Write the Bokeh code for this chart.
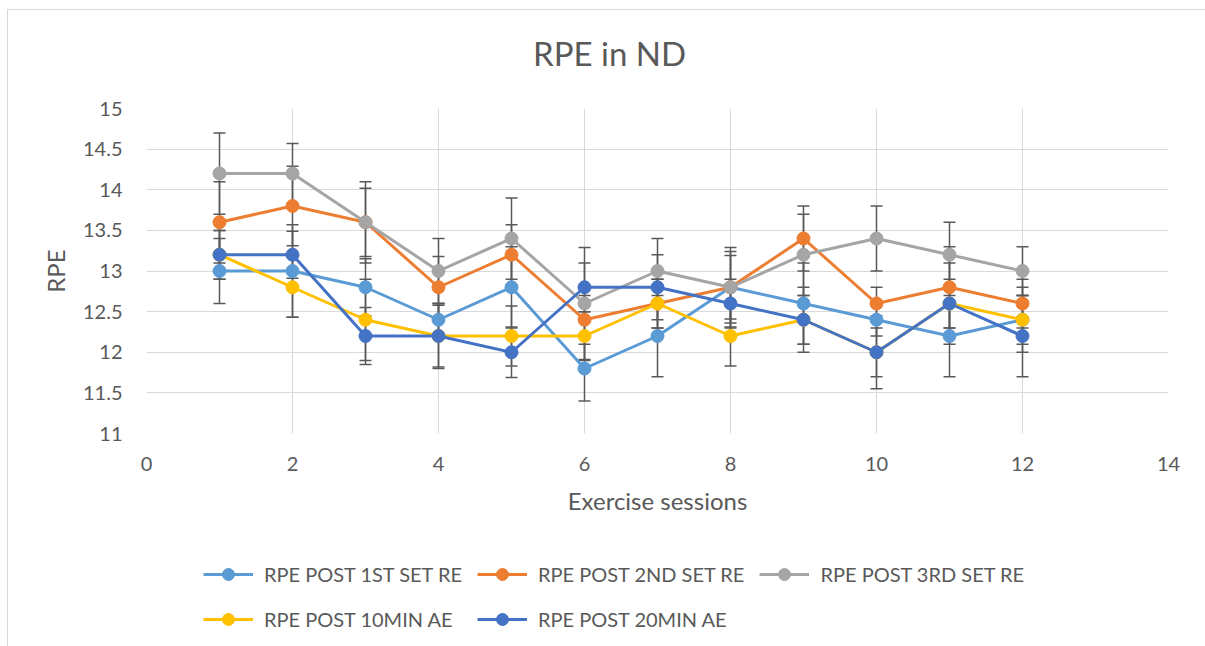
from bokeh.plotting import figure
from bokeh.models import (ColumnDataSource, Legend, LegendItem, FixedTicker, Range1d, Label)
from bokeh.layouts import column
from bokeh.embed import file_html
from bokeh.resources import INLINE

sessions = [1, 2, 3, 4, 5, 6, 7, 8, 9, 10, 11, 12]

series_names = ["RPE POST 1ST SET RE", "RPE POST 2ND SET RE", "RPE POST 3RD SET RE",
                "RPE POST 10MIN AE", "RPE POST 20MIN AE"]
series_colors = ["#5B9BD5", "#ED7D31", "#A5A5A5", "#FFC000", "#4472C4"]

rpe_1st_set = [13.0, 13.0, 12.8, 12.4, 12.8, 11.8, 12.2, 12.8, 12.6, 12.4, 12.2, 12.4]
rpe_2nd_set = [13.6, 13.8, 13.6, 12.8, 13.2, 12.4, 12.6, 12.8, 13.4, 12.6, 12.8, 12.6]
rpe_3rd_set = [14.2, 14.2, 13.6, 13.0, 13.4, 12.6, 13.0, 12.8, 13.2, 13.4, 13.2, 13.0]
rpe_10min_ae = [13.2, 12.8, 12.4, 12.2, 12.2, 12.2, 12.6, 12.2, 12.4, 12.0, 12.6, 12.4]
rpe_20min_ae = [13.2, 13.2, 12.2, 12.2, 12.0, 12.8, 12.8, 12.6, 12.4, 12.0, 12.6, 12.2]

err_1st_set = [0.4, 0.57, 0.35, 0.2, 0.5, 0.4, 0.5, 0.39, 0.5, 0.2, 0.5, 0.3]
err_2nd_set = [0.5, 0.49, 0.42, 0.38, 0.37, 0.3, 0.3, 0.44, 0.4, 0.2, 0.5, 0.3]
err_3rd_set = [0.5, 0.37, 0.5, 0.4, 0.5, 0.69, 0.4, 0.49, 0.5, 0.4, 0.4, 0.3]
err_10min_ae = [0.3, 0.37, 0.5, 0.4, 0.37, 0.3, 0.3, 0.37, 0.3, 0.3, 0.3, 0.4]
err_20min_ae = [0.3, 0.29, 0.35, 0.38, 0.31, 0.3, 0.4, 0.3, 0.4, 0.45, 0.5, 0.5]

x_ticks = [0, 2, 4, 6, 8, 10, 12, 14]
y_ticks = [11, 11.5, 12, 12.5, 13, 13.5, 14, 14.5, 15]
y_tick_labels = ["11", "11.5", "12", "12.5", "13", "13.5", "14", "14.5", "15"]

values = [rpe_1st_set, rpe_2nd_set, rpe_3rd_set, rpe_10min_ae, rpe_20min_ae]
errors = [err_1st_set, err_2nd_set, err_3rd_set, err_10min_ae, err_20min_ae]

FONT = "Lato"
TXT = "#595959"
GRID = "#D9D9D9"
BORDER = "1px solid #D9D9D9"
W = 1200

# ---- title strip ----
hd = figure(width=W, height=70, output_backend="svg", toolbar_location=None,
            x_range=Range1d(0, 1022), y_range=Range1d(0, 70),
            x_axis_location=None, y_axis_location=None,
            min_border_left=0, min_border_right=0, min_border_top=0, min_border_bottom=0)
hd.outline_line_color = None
hd.grid.visible = False
hd.add_layout(Label(x=463, y=28, text="RPE in ND", text_font=FONT, text_font_size="33px",
                    text_color=TXT, text_align="center", text_baseline="middle"))

# ---- main chart ----
p = figure(width=W, height=460, output_backend="svg", toolbar_location=None,
           x_range=Range1d(0, 14), y_range=Range1d(11, 15),
           min_border_left=138, min_border_right=40, min_border_top=28, min_border_bottom=107)
p.outline_line_color = None

for ax in (p.xaxis[0], p.yaxis[0]):
    ax.axis_line_color = None
    ax.major_tick_line_color = None
    ax.minor_tick_line_color = None
    ax.major_label_text_font = FONT
    ax.major_label_text_font_size = "20px"
    ax.major_label_text_color = TXT
    ax.axis_label_text_font = FONT
    ax.axis_label_text_font_size = "24px"
    ax.axis_label_text_color = TXT
    ax.axis_label_text_font_style = "normal"

p.xaxis.ticker = FixedTicker(ticks=x_ticks)
p.yaxis.ticker = FixedTicker(ticks=y_ticks)
p.yaxis.major_label_overrides = {v: s for v, s in zip(y_ticks, y_tick_labels)}
p.xaxis.axis_label = "Exercise sessions"
p.yaxis.axis_label = "RPE"
p.xaxis.major_label_standoff = 17
p.yaxis.major_label_standoff = 18
p.xaxis.axis_label_standoff = 12
p.yaxis.axis_label_standoff = 10

p.xgrid.grid_line_color = GRID
p.ygrid.grid_line_color = GRID
p.xgrid.ticker = FixedTicker(ticks=x_ticks)
p.ygrid.ticker = FixedTicker(ticks=y_ticks)

# error bars first (behind lines/markers)
for vals, errs in zip(values, errors):
    lo = [v - e for v, e in zip(vals, errs)]
    hi = [v + e for v, e in zip(vals, errs)]
    src = ColumnDataSource(dict(x=sessions, lo=lo, hi=hi))
    p.segment(x0="x", y0="lo", x1="x", y1="hi", source=src, line_color="#595959", line_width=1.5)
    p.scatter(x="x", y="lo", source=src, marker="dash", size=12, line_color="#595959", line_width=1.5)
    p.scatter(x="x", y="hi", source=src, marker="dash", size=12, line_color="#595959", line_width=1.5)

for name, col, vals in zip(series_names, series_colors, values):
    src = ColumnDataSource(dict(x=sessions, y=vals))
    p.line(x="x", y="y", source=src, line_color=col, line_width=3)
    p.scatter(x="x", y="y", source=src, marker="circle", size=13, fill_color=col, line_color=col)

# ---- legend strip (its ranges keep the series out of view; only the legend shows) ----
lg = figure(width=W, height=110, output_backend="svg", toolbar_location=None,
            x_range=Range1d(100, 101), y_range=Range1d(100, 101),
            x_axis_location=None, y_axis_location=None,
            min_border_left=0, min_border_right=0, min_border_top=0, min_border_bottom=0)
lg.outline_line_color = None
lg.grid.visible = False
item_map = {}
for name, col, vals in zip(series_names, series_colors, values):
    src = ColumnDataSource(dict(x=sessions, y=vals))
    l = lg.line(x="x", y="y", source=src, line_color=col, line_width=3)
    s = lg.scatter(x="x", y="y", source=src, marker="circle", size=13, fill_color=col, line_color=col)
    item_map[name] = LegendItem(label=name, renderers=[l, s])

# column-major grid fill: order so that rows read 1ST, 2ND, 3RD / 10MIN, 20MIN
order = [0, 3, 1, 4, 2]
items = [item_map[series_names[i]] for i in order]

legend = Legend(items=items, ncols=3, location=(57, 16),
                label_text_font=FONT, label_text_font_size="20px", label_text_color=TXT,
                glyph_width=50, glyph_height=30, label_height=30, label_standoff=11,
                spacing=15, padding=0, margin=0, border_line_color=None,
                background_fill_alpha=0)
lg.add_layout(legend, "center")

layout = column(hd, p, lg, spacing=0)
layout.styles = {"border-left": BORDER, "border-top": BORDER, "margin-left": "7px", "margin-top": "9px"}

open("out.html", "w").write(file_html(layout, INLINE))
